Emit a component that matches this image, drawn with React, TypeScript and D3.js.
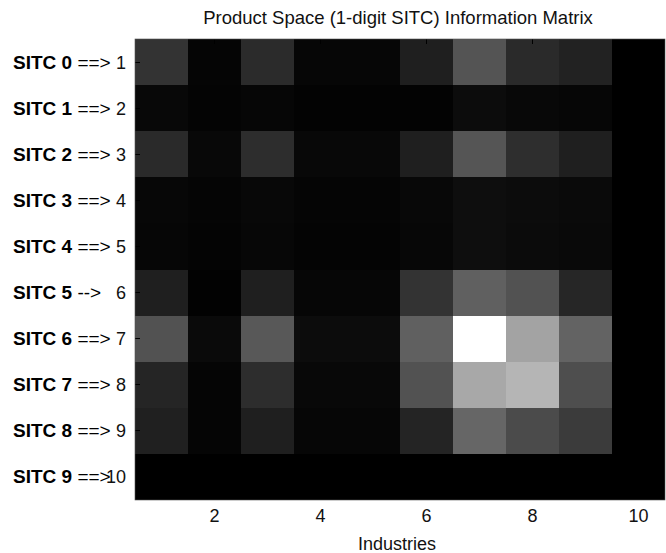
import { useRef, useEffect } from 'react';
import * as d3 from 'd3';

// information matrix, one array per SITC row, 0..1 (gray level)
const sitc0 = [0.20, 0.02, 0.17, 0.025, 0.025, 0.12, 0.33, 0.165, 0.135, 0];
const sitc1 = [0.03, 0.015, 0.025, 0.012, 0.012, 0.012, 0.047, 0.03, 0.025, 0];
const sitc2 = [0.165, 0.03, 0.175, 0.03, 0.03, 0.12, 0.335, 0.18, 0.12, 0];
const sitc3 = [0.027, 0.02, 0.03, 0.02, 0.02, 0.03, 0.055, 0.047, 0.04, 0];
const sitc4 = [0.024, 0.015, 0.027, 0.015, 0.015, 0.027, 0.055, 0.043, 0.035, 0];
const sitc5 = [0.12, 0.008, 0.12, 0.024, 0.024, 0.20, 0.375, 0.32, 0.15, 0];
const sitc6 = [0.32, 0.04, 0.345, 0.047, 0.047, 0.375, 1.0, 0.64, 0.39, 0];
const sitc7 = [0.145, 0.02, 0.175, 0.03, 0.03, 0.32, 0.66, 0.71, 0.305, 0];
const sitc8 = [0.125, 0.02, 0.12, 0.024, 0.024, 0.14, 0.40, 0.295, 0.23, 0];
const sitc9 = [0, 0, 0, 0, 0, 0, 0, 0, 0, 0];

const matrix = [sitc0, sitc1, sitc2, sitc3, sitc4, sitc5, sitc6, sitc7, sitc8, sitc9];
const rowNames = ['SITC 0', 'SITC 1', 'SITC 2', 'SITC 3', 'SITC 4', 'SITC 5', 'SITC 6', 'SITC 7', 'SITC 8', 'SITC 9'];
const arrows = ['==>', '==>', '==>', '==>', '==>', '-->', '==>', '==>', '==>', '==>'];
const xTicks = [2, 4, 6, 8, 10];
const yTicks = [1, 2, 3, 4, 5, 6, 7, 8, 9, 10];

const W = 666;
const H = 553;
const FONT = '"Liberation Sans", Arial, Helvetica, sans-serif';

export default function App() {
  const ref = useRef<SVGSVGElement>(null);

  useEffect(() => {
    if (!ref.current) return;
    const svg = d3.select(ref.current);
    svg.selectAll('*').remove();

    const margin = { top: 39, right: 1, bottom: 53, left: 135 };
    const x = d3.scaleLinear().domain([0.5, 10.5]).range([margin.left, W - margin.right]);
    const y = d3.scaleLinear().domain([0.5, 10.5]).range([margin.top, H - margin.bottom]);
    const color = d3.scaleLinear<string>().domain([0, 1]).range(['#000000', '#ffffff']);

    const cells = matrix.flatMap((row, i) => row.map((v, j) => ({ r: i + 1, c: j + 1, v })));

    svg.append('g')
      .selectAll('rect')
      .data(cells)
      .join('rect')
      .attr('x', d => x(d.c - 0.5))
      .attr('y', d => y(d.r - 0.5))
      .attr('width', d => x(d.c + 0.5) - x(d.c - 0.5))
      .attr('height', d => y(d.r + 0.5) - y(d.r - 0.5))
      .attr('fill', d => color(d.v))
      .attr('shape-rendering', 'crispEdges');

    // tick marks (inward, MATLAB style)
    const ticks = svg.append('g').attr('stroke', '#000').attr('shape-rendering', 'crispEdges');
    xTicks.forEach(t => {
      ticks.append('line').attr('x1', x(t)).attr('x2', x(t)).attr('y1', y(0.5)).attr('y2', y(0.5) + 5);
      ticks.append('line').attr('x1', x(t)).attr('x2', x(t)).attr('y1', y(10.5)).attr('y2', y(10.5) - 5);
    });
    yTicks.forEach(t => {
      ticks.append('line').attr('x1', x(0.5)).attr('x2', x(0.5) + 5).attr('y1', y(t)).attr('y2', y(t));
    });

    // axes box
    svg.append('rect')
      .attr('x', x(0.5))
      .attr('y', y(0.5))
      .attr('width', x(10.5) - x(0.5))
      .attr('height', y(10.5) - y(0.5))
      .attr('fill', 'none')
      .attr('stroke', '#555')
      .attr('stroke-width', 0.6);

    // x tick labels
    svg.append('g')
      .selectAll('text')
      .data(xTicks)
      .join('text')
      .attr('x', d => x(d))
      .attr('y', 522)
      .attr('text-anchor', 'middle')
      .attr('font-family', FONT)
      .attr('font-size', 18)
      .attr('fill', '#111')
      .text(d => d);

    // y tick labels (numeric)
    svg.append('g')
      .selectAll('text')
      .data(yTicks)
      .join('text')
      .attr('x', 126)
      .attr('y', d => y(d) + 6.5)
      .attr('text-anchor', 'end')
      .attr('font-family', FONT)
      .attr('font-size', 18)
      .attr('fill', '#111')
      .text(d => d);

    // SITC row labels, left aligned like the reference
    const rowLabels = svg.append('g')
      .selectAll('text')
      .data(rowNames)
      .join('text')
      .attr('x', 13)
      .attr('y', (_, i) => y(i + 1) + 6.5)
      .attr('font-family', FONT)
      .attr('font-size', 19)
      .attr('fill', '#000');
    rowLabels.append('tspan').attr('font-weight', 'bold').text(d => d + ' ');
    rowLabels.append('tspan').text((_, i) => arrows[i]);

    // title
    svg.append('text')
      .attr('x', 398)
      .attr('y', 24)
      .attr('text-anchor', 'middle')
      .attr('font-family', FONT)
      .attr('font-size', 18.5)
      .attr('fill', '#111')
      .text('Product Space (1-digit SITC) Information Matrix');

    // x axis label
    svg.append('text')
      .attr('x', 397)
      .attr('y', 550)
      .attr('text-anchor', 'middle')
      .attr('font-family', FONT)
      .attr('font-size', 18)
      .attr('fill', '#111')
      .text('Industries');
  }, []);

  return (
    <svg
      ref={ref}
      width={W}
      height={H}
      style={{ position: 'absolute', left: 0, top: 0, background: '#fff' }}
    />
  );
}
